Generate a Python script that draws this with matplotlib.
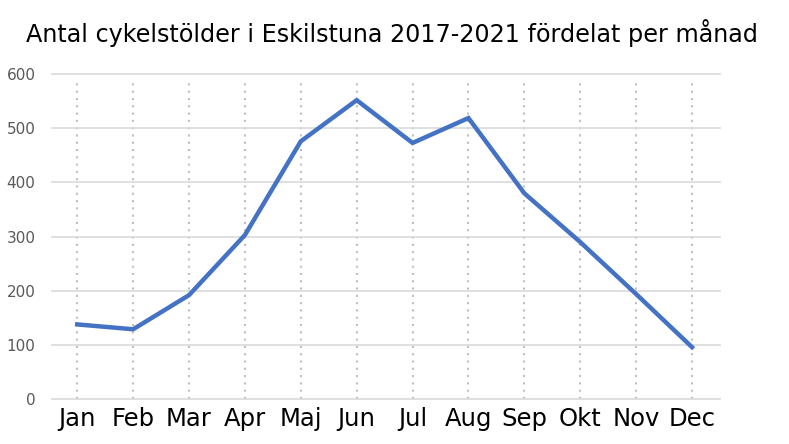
import matplotlib.pyplot as plt

months = ["Jan", "Feb", "Mar", "Apr", "Maj", "Jun", "Jul", "Aug", "Sep", "Okt", "Nov", "Dec"]
thefts = [138, 129, 192, 303, 476, 552, 473, 519, 380, 290, 194, 96]
yticks = [0, 100, 200, 300, 400, 500, 600]

fig = plt.figure(figsize=(7.89, 4.44), dpi=100)
ax = fig.add_axes([0.066, 0.101, 0.8465, 0.732])

x = list(range(len(months)))

# dotted vertical lines at each month
for xi in x:
    ax.axvline(xi, ymin=0, ymax=0.985, color="#bfbfbf", linestyle=(0, (1, 2.5)), linewidth=1.5, zorder=1)
for yv in yticks:
    ax.axhline(yv, color="#d9d9d9", linewidth=1.2, zorder=1, clip_on=False)

ax.plot(x, thefts, color="#4472C4", linewidth=3.2, solid_joinstyle="miter", zorder=3)

ax.set_xlim(-0.45, 11.5)
ax.set_ylim(0, 600)
ax.set_xticks(x)
ax.set_xticklabels(months, fontsize=17.5, color="black")
ax.set_yticks(yticks)
ax.set_yticklabels([str(v) for v in yticks], fontsize=11, color="#595959")
ax.tick_params(axis="both", length=0)
ax.tick_params(axis="x", pad=6)
ax.tick_params(axis="y", pad=12)
for s in ax.spines.values():
    s.set_visible(False)

fig.text(0.497, 0.926, "Antal cykelstölder i Eskilstuna 2017-2021 fördelat per månad",
         ha="center", va="center", fontsize=17.2, color="black")

fig.savefig("out.png", dpi=100)
